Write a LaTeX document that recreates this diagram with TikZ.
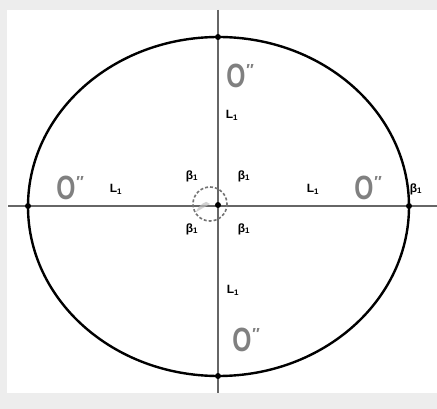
\documentclass[tikz,border=0pt]{standalone}
\usepackage{fontspec}
\setmainfont{Liberation Sans}
\usepackage{graphicx}
\newcommand{\oprime}{\scalebox{0.82}[1.12]{O}\raisebox{12pt}{\fontsize{16}{16}\selectfont\textit{\char"2033}}}
\begin{document}
\begin{tikzpicture}[x=1pt,y=-1pt,
  axis/.style={draw=black!60,line width=1.8pt},
  oval/.style={draw=black,line width=2.4pt},
  dot/.style={circle,fill=black,inner sep=0pt,minimum size=6pt},
  bigo/.style={text=black!50,font=\bfseries\fontsize{30}{30}\selectfont,inner sep=0pt},
  lab/.style={font=\bfseries\fontsize{12}{12}\selectfont,inner sep=0pt},
  blab/.style={font=\bfseries\fontsize{12}{12}\selectfont,inner sep=0pt}]
\useasboundingbox (0,0) rectangle (437,409);
\fill[black!7] (0,0) rectangle (437,409);
\fill[white] (7,10) rectangle (437,393);
% axes
\coordinate (vt) at (218,10);
\coordinate (vb) at (218,393);
\coordinate (hl) at (8,206);
\coordinate (hr) at (437,206);
\draw[axis] (vt) -- (vb);
\draw[axis] (hl) -- (hr);
% ellipse
\draw[oval] (218.5,206.5) ellipse [x radius=190.5, y radius=169.5];
% small circle
\draw[black!55,line width=1.6pt,densely dashed] (210,204) circle [radius=17];
\fill[black!25,opacity=0.7] (196,212) arc[start angle=200,end angle=250,radius=17] -- (210,204) -- cycle;
% dots
\node[dot] (top) at (218,37) {};
\node[dot] (bot) at (218,376) {};
\node[dot] (lft) at (28,206) {};
\node[dot] (rgt) at (409,206) {};
\node[dot] (ctr) at (218,205) {};
% O'' labels
\node[bigo] (o1) at (240,76) {\oprime};
\node[bigo] (o2) at (70,188) {\oprime};
\node[bigo] (o3) at (368,188) {\oprime};
\node[bigo] (o4) at (246,340) {\oprime};
% L labels
\node[lab] (l1) at (232,115) {L\textsubscript{1}};
\node[lab] (l2) at (116,189) {L\textsubscript{1}};
\node[lab] (l3) at (313,189) {L\textsubscript{1}};
\node[lab] (l4) at (233,290) {L\textsubscript{1}};
% beta labels
\node[blab] (b1) at (192,176) {β\textsubscript{1}};
\node[blab] (b2) at (244,176) {β\textsubscript{1}};
\node[blab] (b3) at (192,229) {β\textsubscript{1}};
\node[blab] (b4) at (244,229) {β\textsubscript{1}};
\node[blab] (b5) at (416,189) {β\textsubscript{1}};
\end{tikzpicture}
\end{document}
